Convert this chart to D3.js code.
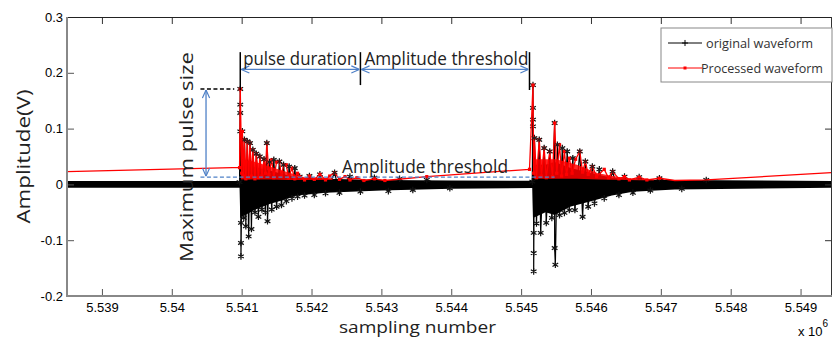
<!DOCTYPE html>
<html>
<head>
<meta charset="utf-8">
<script src="https://cdn.jsdelivr.net/npm/d3@7"></script>
<style>
  body { margin: 0; background: #fff; }
  svg text { font-family: "Open Sans", "Noto Sans", sans-serif; }
  .tick text { font-family: "Liberation Sans", Arial, sans-serif; font-size: 13px; fill: #000; }
</style>
</head>
<body>
<figure id="wave" style="margin:0"></figure>
<script>
// sample numbers are in units of 1e6, amplitudes in V
const xTicks = [5.539, 5.540, 5.541, 5.542, 5.543, 5.544, 5.545, 5.546, 5.547, 5.548, 5.549];
const yTicks = [-0.2, -0.1, 0, 0.1, 0.2, 0.3];

// dense black band of the original waveform: [x, upper, lower]
const origCore = [
  [5.53850, 0.0062, -0.0062], [5.54097, 0.0062, -0.0062],
  [5.54098, 0.035, -0.060], [5.54105, 0.035, -0.055], [5.54120, 0.030, -0.045],
  [5.54140, 0.025, -0.035], [5.54160, 0.018, -0.028], [5.54180, 0.012, -0.020],
  [5.54220, 0.010, -0.015], [5.54300, 0.008, -0.011], [5.54400, 0.007, -0.008],
  [5.54516, 0.0065, -0.0065],
  [5.54517, 0.035, -0.060], [5.54535, 0.035, -0.050], [5.54548, 0.040, -0.055],
  [5.54570, 0.030, -0.040], [5.54600, 0.020, -0.030], [5.54630, 0.012, -0.020],
  [5.54660, 0.009, -0.013], [5.54720, 0.008, -0.009], [5.54944, 0.0062, -0.0062]
];

// original waveform excursions, burst 1
const origBurst1 = [
  [5.54097, 0.004], [5.54098, 0.171], [5.54098, 0.143], [5.54098, 0.128], [5.54098, 0.095],
  [5.54099, -0.069], [5.54099, -0.105], [5.54099, -0.129], [5.54101, 0.095], [5.54103, -0.060],
  [5.54104, 0.080], [5.54106, -0.075], [5.54108, 0.077], [5.54110, -0.093], [5.54112, 0.074],
  [5.54114, -0.080], [5.54116, 0.062], [5.54119, -0.050], [5.54121, 0.055], [5.54124, -0.058],
  [5.54126, 0.050], [5.54129, -0.045], [5.54132, 0.045], [5.54134, -0.050], [5.54136, 0.074],
  [5.54137, -0.066], [5.54140, 0.040], [5.54143, -0.045], [5.54146, 0.044], [5.54150, -0.040],
  [5.54154, 0.041], [5.54157, -0.037], [5.54160, 0.035], [5.54164, -0.030], [5.54168, 0.032],
  [5.54172, -0.025], [5.54176, 0.029], [5.54180, -0.022], [5.54183, 0.014], [5.54190, -0.020],
  [5.54197, 0.015], [5.54204, -0.019], [5.54212, 0.018], [5.54220, -0.016], [5.54233, 0.021],
  [5.54240, -0.015], [5.54255, 0.014], [5.54270, -0.013], [5.54290, 0.012], [5.54310, -0.012],
  [5.54326, 0.010], [5.54345, -0.010], [5.54365, 0.008], [5.54398, -0.007]
];

// original waveform excursions, burst 2
const origBurst2 = [
  [5.54516, 0.005], [5.54517, 0.178], [5.54517, 0.137], [5.54517, 0.116], [5.54517, 0.104],
  [5.54518, -0.087], [5.54518, -0.123], [5.54518, -0.156], [5.54519, 0.083], [5.54522, -0.070],
  [5.54526, 0.080], [5.54528, -0.087], [5.54533, 0.065], [5.54536, -0.069], [5.54541, 0.059],
  [5.54544, -0.060], [5.54548, 0.110], [5.54548, -0.114], [5.54549, -0.144], [5.54552, 0.071],
  [5.54555, -0.055], [5.54559, 0.065], [5.54562, -0.051], [5.54566, 0.059], [5.54569, -0.046],
  [5.54574, 0.047], [5.54577, -0.046], [5.54584, 0.059], [5.54588, -0.058], [5.54592, 0.041],
  [5.54596, -0.040], [5.54602, 0.032], [5.54605, -0.034], [5.54612, 0.027], [5.54619, -0.025],
  [5.54631, 0.023], [5.54640, -0.019], [5.54648, 0.014], [5.54660, -0.015], [5.54669, 0.013],
  [5.54685, -0.011], [5.54698, 0.011], [5.54730, -0.008], [5.54765, 0.008]
];

// processed waveform (red)
const processed = [
  [5.53850, 0.023], [5.54087, 0.030], [5.54097, 0.030],
  [5.54098, 0.171], [5.54100, 0.020], [5.54101, 0.095], [5.54103, 0.015], [5.54104, 0.080],
  [5.54106, 0.010], [5.54108, 0.077], [5.54110, 0.012], [5.54112, 0.074], [5.54114, 0.015],
  [5.54116, 0.062], [5.54119, 0.010], [5.54121, 0.055], [5.54124, 0.012], [5.54126, 0.050],
  [5.54129, 0.015], [5.54132, 0.045], [5.54134, 0.020], [5.54136, 0.074], [5.54139, 0.018],
  [5.54143, 0.044], [5.54146, 0.012], [5.54150, 0.040], [5.54154, 0.041], [5.54157, 0.015],
  [5.54160, 0.035], [5.54164, 0.035], [5.54167, 0.012], [5.54172, 0.029], [5.54176, 0.010],
  [5.54180, 0.020], [5.54183, 0.014], [5.54190, 0.008], [5.54197, 0.015], [5.54204, 0.009],
  [5.54212, 0.018], [5.54220, 0.008], [5.54226, 0.015], [5.54233, 0.021], [5.54240, 0.009],
  [5.54248, 0.014], [5.54255, 0.008], [5.54265, 0.012], [5.54275, 0.007], [5.54290, 0.010],
  [5.54305, 0.007], [5.54365, 0.014], [5.54512, 0.027],
  [5.54517, 0.178], [5.54518, 0.020], [5.54519, 0.083], [5.54522, 0.012], [5.54526, 0.080],
  [5.54529, 0.015], [5.54533, 0.065], [5.54536, 0.012], [5.54541, 0.059], [5.54545, 0.014],
  [5.54548, 0.110], [5.54551, 0.020], [5.54555, 0.071], [5.54558, 0.015], [5.54562, 0.059],
  [5.54565, 0.018], [5.54569, 0.047], [5.54573, 0.020], [5.54578, 0.045], [5.54584, 0.059],
  [5.54588, 0.022], [5.54592, 0.041], [5.54596, 0.018], [5.54602, 0.032], [5.54608, 0.014],
  [5.54619, 0.027], [5.54625, 0.012], [5.54631, 0.023], [5.54640, 0.010], [5.54648, 0.014],
  [5.54655, 0.008], [5.54669, 0.013], [5.54680, 0.008], [5.54698, 0.011], [5.54720, 0.007],
  [5.54765, 0.008], [5.54944, 0.021]
];

// dense red band of the processed waveform inside the bursts: [x, upper, lower]
const processedCore = [
  [5.54099, 0.045, 0.009], [5.54120, 0.040, 0.009], [5.54140, 0.032, 0.009],
  [5.54165, 0.022, 0.008], [5.54190, 0.013, 0.008], [5.54230, 0.011, 0.008]
];
const processedCore2 = [
  [5.54518, 0.045, 0.010], [5.54550, 0.045, 0.010], [5.54580, 0.035, 0.010],
  [5.54610, 0.020, 0.009], [5.54650, 0.011, 0.008], [5.54690, 0.009, 0.007]
];

// annotation values
const pulseStart = 5.54098;
const pulseEnd = 5.54270;
const nextPulse = 5.54512;
const maxPulse = 0.171;
const threshold = 0.013;
const thresholdSpan = [5.54041, 5.54548];

const width = 833, height = 338;
const margin = {left: 67, right: 1, top: 17, bottom: 42};

const x = d3.scaleLinear().domain([5.53850, 5.54945]).range([margin.left, width - margin.right]);
const y = d3.scaleLinear().domain([-0.2, 0.3]).range([height - margin.bottom, margin.top]);

const svg = d3.select("figure#wave")
  .append("svg")
  .attr("width", width)
  .attr("height", height);

const defs = svg.append("defs");
defs.append("clipPath").attr("id", "plot")
  .append("rect")
  .attr("x", x.range()[0]).attr("y", y.range()[1])
  .attr("width", x.range()[1] - x.range()[0])
  .attr("height", y.range()[0] - y.range()[1]);

const blue = "#4f81c7";
["arrowEnd", "arrowStart"].forEach((id, i) => {
  defs.append("marker")
    .attr("id", id)
    .attr("viewBox", "0 0 10 10")
    .attr("refX", 10).attr("refY", 5)
    .attr("markerWidth", 9).attr("markerHeight", 9)
    .attr("markerUnits", "userSpaceOnUse")
    .attr("orient", i === 0 ? "auto" : "auto-start-reverse")
    .append("path")
    .attr("d", "M1,1 L10,5 L1,9")
    .attr("fill", "none")
    .attr("stroke", blue)
    .attr("stroke-width", 1.3);
});

const plot = svg.append("g").attr("clip-path", "url(#plot)");
const band = d3.area().x(d => x(d[0])).y0(d => y(d[2])).y1(d => y(d[1]));

// dense band of the original waveform
plot.append("path")
  .datum(origCore)
  .attr("d", band)
  .attr("fill", "#000");

const line = d3.line().x(d => x(d[0])).y(d => y(d[1]));
const star = d3.symbol(d3.symbolAsterisk, 30);

[origBurst1, origBurst2].forEach(burst => {
  plot.append("path")
    .datum(burst)
    .attr("d", line)
    .attr("fill", "none")
    .attr("stroke", "#000")
    .attr("stroke-width", 1.2);

  plot.selectAll(null)
    .data(burst)
    .enter()
    .append("path")
    .attr("d", star)
    .attr("transform", d => "translate(" + x(d[0]) + "," + y(d[1]) + ")")
    .attr("fill", "none")
    .attr("stroke", "#111")
    .attr("stroke-width", 1.2);
});

// processed waveform
[processedCore, processedCore2].forEach(c => {
  plot.append("path")
    .datum(c)
    .attr("d", band)
    .attr("fill", "#ff0000")
    .attr("opacity", 0.85);
});

plot.append("path")
  .datum(processed)
  .attr("d", line)
  .attr("fill", "none")
  .attr("stroke", "#ff0000")
  .attr("stroke-width", 1.3);

plot.selectAll(null)
  .data(processed.filter(d => d[0] > 5.54090 && d[0] < 5.54720))
  .enter()
  .append("rect")
  .attr("x", d => x(d[0]) - 1.6)
  .attr("y", d => y(d[1]) - 1.6)
  .attr("width", 3.2)
  .attr("height", 3.2)
  .attr("fill", "#ff0000");

// a few black markers show through the red
plot.selectAll(null)
  .data(origBurst1.concat(origBurst2).filter(d => d[1] > 0.02 && d[1] < 0.09))
  .enter()
  .append("path")
  .attr("d", d3.symbol(d3.symbolAsterisk, 16))
  .attr("transform", d => "translate(" + x(d[0]) + "," + y(d[1]) + ")")
  .attr("fill", "none")
  .attr("stroke", "#222")
  .attr("stroke-width", 1);

// axes with inward ticks
const fmt = d => String(+d.toFixed(3));
svg.append("g")
  .attr("transform", "translate(0," + y.range()[0] + ")")
  .call(d3.axisBottom(x).tickValues(xTicks).tickSize(-7).tickPadding(7).tickFormat(fmt))
  .call(g => g.select(".domain").remove())
  .call(g => g.selectAll(".tick line").attr("stroke", "#555"));

svg.append("g")
  .attr("transform", "translate(0," + y.range()[1] + ")")
  .call(d3.axisTop(x).tickValues(xTicks).tickSize(-7).tickFormat(""))
  .call(g => g.select(".domain").remove())
  .call(g => g.selectAll(".tick line").attr("stroke", "#333"));

svg.append("g")
  .attr("transform", "translate(" + x.range()[0] + ",0)")
  .call(d3.axisLeft(y).tickValues(yTicks).tickSize(-7).tickPadding(4).tickFormat(d => String(+d.toFixed(1))))
  .call(g => g.select(".domain").remove())
  .call(g => g.selectAll(".tick line").attr("stroke", "#555"));

svg.append("g")
  .attr("transform", "translate(" + x.range()[1] + ",0)")
  .call(d3.axisRight(y).tickValues(yTicks).tickSize(-7).tickFormat(""))
  .call(g => g.select(".domain").remove())
  .call(g => g.selectAll(".tick line").attr("stroke", "#333"));

// frame
const [x0, x1] = x.range(), [y0, y1] = y.range();
svg.append("line").attr("x1", x0).attr("x2", x1).attr("y1", y1 + 0.5).attr("y2", y1 + 0.5).attr("stroke", "#222");
svg.append("line").attr("x1", x1 - 0.5).attr("x2", x1 - 0.5).attr("y1", y1).attr("y2", y0).attr("stroke", "#333");
svg.append("line").attr("x1", x0).attr("x2", x0).attr("y1", y1).attr("y2", y0 + 1).attr("stroke", "#888").attr("stroke-width", 2);
svg.append("line").attr("x1", x0).attr("x2", x1).attr("y1", y0).attr("y2", y0).attr("stroke", "#888").attr("stroke-width", 2);

// text helper: fit a label to the width it takes in the picture
function label(g, txt, size, len) {
  return g.append("text")
    .style("font-size", size + "px")
    .attr("fill", "#222")
    .attr("textLength", len)
    .attr("lengthAdjust", "spacingAndGlyphs")
    .text(txt);
}

// axis titles
label(svg, "Amplitude(V)", 18, 134)
  .attr("transform", "translate(30," + ((y0 + y1) / 2) + ") rotate(-90)")
  .attr("text-anchor", "middle");

label(svg, "sampling number", 16.5, 157)
  .attr("x", 339).attr("y", 333);

const exp = svg.append("text")
  .attr("x", 798).attr("y", 336)
  .style("font-family", "'Liberation Sans', Arial, sans-serif")
  .style("font-size", "13px")
  .attr("fill", "#000");
exp.append("tspan").text("x 10");
exp.append("tspan").attr("dy", -9).style("font-size", "10px").text("6");

// annotations
const ann = svg.append("g");
const topY = y(0.237);

ann.append("line")
  .attr("x1", x(thresholdSpan[0])).attr("x2", x(thresholdSpan[1]))
  .attr("y1", y(threshold)).attr("y2", y(threshold))
  .attr("stroke", blue).attr("stroke-width", 1.3).attr("stroke-dasharray", "4,2.5");

ann.append("line")
  .attr("x1", x(5.54041)).attr("x2", x(pulseStart) - 6)
  .attr("y1", y(maxPulse)).attr("y2", y(maxPulse))
  .attr("stroke", "#000").attr("stroke-width", 1.3).attr("stroke-dasharray", "4,2.5");

ann.append("line")
  .attr("x1", x(5.54049)).attr("x2", x(5.54049))
  .attr("y1", y(maxPulse) + 1).attr("y2", y(threshold) - 1)
  .attr("stroke", blue).attr("stroke-width", 1.3)
  .attr("marker-start", "url(#arrowStart)")
  .attr("marker-end", "url(#arrowEnd)");

[pulseStart, pulseEnd, nextPulse].forEach((v, i) => {
  ann.append("line")
    .attr("x1", x(v)).attr("x2", x(v))
    .attr("y1", topY).attr("y2", i === 1 ? y(0.178) : y(maxPulse) + 1)
    .attr("stroke", "#000").attr("stroke-width", 1.5);
});

[[pulseStart, pulseEnd], [pulseEnd, nextPulse]].forEach(s => {
  ann.append("line")
    .attr("x1", x(s[0]) + 1).attr("x2", x(s[1]) - 1)
    .attr("y1", y(0.206)).attr("y2", y(0.206))
    .attr("stroke", blue).attr("stroke-width", 1.3)
    .attr("marker-start", "url(#arrowStart)")
    .attr("marker-end", "url(#arrowEnd)");
});

label(ann, "pulse duration", 18, 114).attr("x", x(pulseStart) + 3).attr("y", 65);
label(ann, "Amplitude threshold", 18, 164).attr("x", x(pulseEnd) + 4).attr("y", 65);
label(ann, "Amplitude threshold", 18, 166).attr("x", 342).attr("y", 173);
label(ann, "Maximum pulse size", 19, 210)
  .attr("transform", "translate(193,157) rotate(-90)")
  .attr("text-anchor", "middle");

// legend
const lg = svg.append("g").attr("transform", "translate(661,28)");
lg.append("rect")
  .attr("width", 171).attr("height", 54)
  .attr("fill", "#fff").attr("stroke", "#888");

const legendItems = [
  {name: "original waveform", color: "#000", y: 15, dot: "star", tx: 45, len: 107},
  {name: "Processed waveform", color: "#ff0000", y: 40, dot: "square", tx: 40, len: 122}
];
legendItems.forEach(it => {
  lg.append("line")
    .attr("x1", 7).attr("x2", 41).attr("y1", it.y).attr("y2", it.y)
    .attr("stroke", it.color).attr("stroke-width", 1);
  if (it.dot === "star") {
    lg.append("path").attr("d", d3.symbol(d3.symbolPlus, 14))
      .attr("transform", "translate(24," + it.y + ")")
      .attr("stroke", "#000").attr("fill", "none");
  } else {
    lg.append("rect").attr("x", 22.5).attr("y", it.y - 1.5).attr("width", 3).attr("height", 3).attr("fill", it.color);
  }
  label(lg, it.name, 13.5, it.len)
    .attr("x", it.tx).attr("y", it.y + 5)
    .attr("fill", "#333");
});
</script>
</body>
</html>
